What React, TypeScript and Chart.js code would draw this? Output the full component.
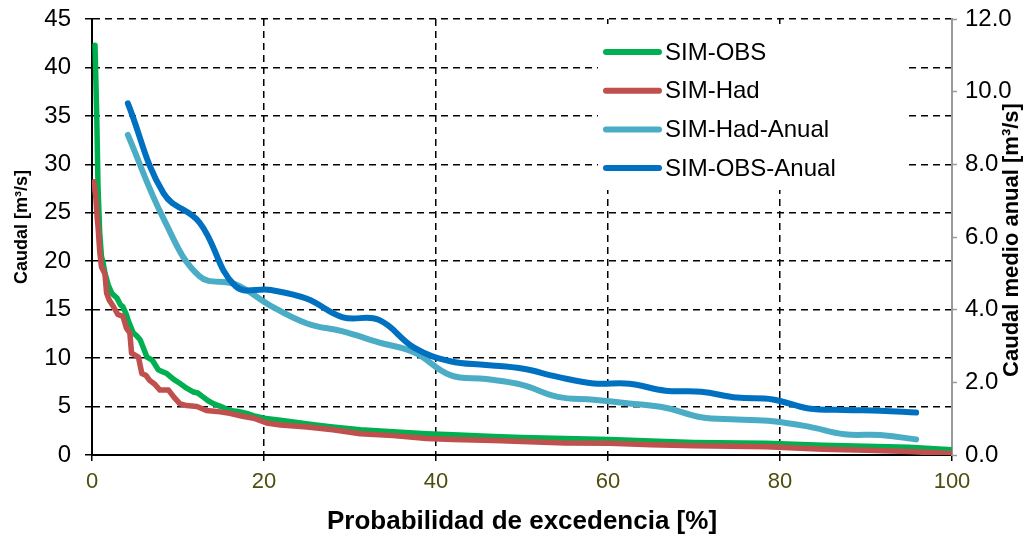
import React, { useEffect, useRef } from 'react';
import { Chart, registerables } from 'chart.js';

Chart.register(...registerables);

// ---- Data ----
const seriesNames = ['SIM-OBS', 'SIM-Had', 'SIM-Had-Anual', 'SIM-OBS-Anual'];

const obsX = [0.35, 0.55, 0.7, 0.9, 1.1, 1.3, 1.5, 1.9, 2.3, 2.9, 3.3, 3.6, 4.0, 4.2, 4.8, 5.2, 5.6, 6.0, 6.4, 7.0, 7.7, 8.2, 8.7, 9.5, 10.2, 11.0, 11.8, 12.3, 12.9, 13.5, 14.1, 15.0, 16.0, 17.0, 18.0, 19.0, 20.0, 21.9, 23.4, 26, 28, 31.2, 35, 38.9, 42, 46.7, 50, 55, 60.2, 65, 70, 78.4, 85, 90, 95, 100];
const obsY = [42.3, 35, 27.7, 22.9, 20.5, 19.8, 18.8, 17.5, 16.7, 16.2, 15.5, 15.3, 14.5, 13.9, 12.6, 12.3, 11.9, 11.0, 10.1, 9.8, 8.8, 8.6, 8.4, 7.8, 7.4, 6.9, 6.5, 6.4, 6.0, 5.6, 5.3, 5.0, 4.6, 4.5, 4.3, 4.0, 3.8, 3.6, 3.4, 3.1, 2.9, 2.6, 2.4, 2.2, 2.1, 1.9, 1.8, 1.7, 1.6, 1.45, 1.3, 1.2, 1.0, 0.9, 0.8, 0.55];

const hadX = [0.23, 0.45, 0.6, 0.7, 0.9, 1.1, 1.5, 1.7, 2.0, 2.5, 3.0, 3.6, 4.0, 4.4, 4.6, 5.0, 5.4, 5.8, 6.3, 6.7, 7.3, 7.9, 8.9, 9.5, 10.2, 11.0, 12.2, 13.3, 14.5, 16.0, 17.5, 18.8, 20.3, 21.9, 25, 28, 31.2, 35, 38.9, 42, 46.7, 50, 55, 60.2, 65, 70, 78.4, 85, 90, 95, 100];
const hadY = [28.2, 26.5, 24.5, 23.6, 21.0, 19.4, 18.7, 16.7, 16.0, 15.3, 14.5, 14.3, 13.1, 12.6, 10.5, 10.3, 10.1, 8.4, 8.2, 7.7, 7.3, 6.7, 6.7, 6.0, 5.3, 5.1, 5.0, 4.6, 4.5, 4.3, 4.0, 3.8, 3.3, 3.1, 2.9, 2.6, 2.2, 2.0, 1.7, 1.6, 1.5, 1.4, 1.25, 1.2, 1.05, 0.95, 0.86, 0.6, 0.5, 0.35, 0.15];

const anualX = [4.17, 8.33, 12.5, 16.67, 20.83, 25, 29.17, 33.33, 37.5, 41.67, 45.83, 50, 54.17, 58.33, 62.5, 66.67, 70.83, 75, 79.17, 83.33, 87.5, 91.67, 95.83];
const hadAnualY = [8.81, 6.5, 4.92, 4.7, 4.1, 3.62, 3.4, 3.1, 2.82, 2.2, 2.09, 1.93, 1.6, 1.52, 1.42, 1.3, 1.04, 0.98, 0.93, 0.78, 0.57, 0.55, 0.43];
const obsAnualY = [9.68, 7.2, 6.4, 4.65, 4.54, 4.3, 3.79, 3.72, 2.95, 2.58, 2.48, 2.38, 2.15, 1.97, 1.96, 1.77, 1.74, 1.58, 1.53, 1.28, 1.24, 1.22, 1.17];

const xTicks = [0, 20, 40, 60, 80, 100];
const leftTicks = [0, 5, 10, 15, 20, 25, 30, 35, 40, 45];
const rightTicks = [0, 2, 4, 6, 8, 10, 12];

const xTitle = 'Probabilidad de excedencia [%]';
const leftTitle = 'Caudal [m³/s]';
const rightTitle = 'Caudal medio anual [m³/s]';

// ---- Styles ----
const seriesColors = ['#00B050', '#C0504D', '#4BACC6', '#0070C0'];
const FONT = "'Liberation Sans', Arial, sans-serif";

const pts = (xs: number[], ys: number[]) => xs.map((x, i) => ({ x, y: ys[i] }));

const overlayPlugin = {
  id: 'overlay',
  afterDraw(chart: any) {
    const ctx = chart.ctx as CanvasRenderingContext2D;
    const area = chart.chartArea;
    ctx.save();
    // legend box
    ctx.fillStyle = '#ffffff';
    ctx.fillRect(598, 24, 307, 166);
    ctx.font = `24px ${FONT}`;
    ctx.textBaseline = 'middle';
    ctx.textAlign = 'left';
    seriesNames.forEach((name, i) => {
      const y = 52 + i * 38.7;
      ctx.strokeStyle = seriesColors[i];
      ctx.lineWidth = 6;
      ctx.lineCap = 'round';
      ctx.beginPath();
      ctx.moveTo(606, y);
      ctx.lineTo(659, y);
      ctx.stroke();
      ctx.fillStyle = '#000';
      ctx.fillText(name, 665, y + 1);
    });
    // x title
    ctx.font = `bold 26px ${FONT}`;
    ctx.textAlign = 'center';
    ctx.fillStyle = '#000';
    ctx.fillText(xTitle, (area.left + area.right) / 2, 522);
    // left title
    ctx.save();
    ctx.translate(22, 227);
    ctx.rotate(-Math.PI / 2);
    ctx.font = `bold 18px ${FONT}`;
    ctx.fillText(leftTitle, 0, 0);
    ctx.restore();
    // right title
    ctx.save();
    ctx.translate(1012, 240);
    ctx.rotate(-Math.PI / 2);
    ctx.font = `bold 22px ${FONT}`;
    ctx.fillText(rightTitle, 0, 0);
    ctx.restore();
    ctx.restore();
  },
};

export default function App() {
  const ref = useRef<HTMLCanvasElement | null>(null);
  useEffect(() => {
    if (!ref.current) return;
    const chart = new Chart(ref.current, {
      type: 'line',
      data: {
        datasets: [
          { label: seriesNames[0], data: pts(obsX, obsY), borderColor: seriesColors[0], borderWidth: 5.5, pointRadius: 0, tension: 0, yAxisID: 'y', order: 4, borderJoinStyle: 'round', borderCapStyle: 'round' },
          { label: seriesNames[1], data: pts(hadX, hadY), borderColor: seriesColors[1], borderWidth: 5.5, pointRadius: 0, tension: 0, yAxisID: 'y', order: 3, borderJoinStyle: 'round', borderCapStyle: 'round' },
          { label: seriesNames[2], data: pts(anualX, hadAnualY), borderColor: seriesColors[2], borderWidth: 6, pointRadius: 0, tension: 0.4, yAxisID: 'y1', order: 2, borderCapStyle: 'round' },
          { label: seriesNames[3], data: pts(anualX, obsAnualY), borderColor: seriesColors[3], borderWidth: 6, pointRadius: 0, tension: 0.4, yAxisID: 'y1', order: 1, borderCapStyle: 'round' },
        ],
      },
      options: {
        responsive: false,
        maintainAspectRatio: false,
        animation: false,
        devicePixelRatio: 1,
        layout: { padding: { top: 19, left: 0, right: 0, bottom: 0 } },
        plugins: { legend: { display: false }, tooltip: { enabled: false } },
        scales: {
          x: {
            type: 'linear',
            min: 0,
            max: 100,
            afterBuildTicks: (s: any) => { s.ticks = xTicks.map((v) => ({ value: v })); },
            afterFit: (s: any) => { s.height = 86; s.paddingLeft = 0; s.paddingRight = 0; },
            ticks: { color: '#4d4d0d', font: { family: FONT, size: 22 }, padding: 8, maxRotation: 0 },
            grid: {
              color: (c: any) => (c.tick && (c.tick.value === 0 || c.tick.value === 100) ? 'rgba(0,0,0,0)' : '#000'),
              lineWidth: 1.5,
              tickColor: '#000',
              tickLength: 6,
              tickWidth: 1.5,
            },
            border: { color: '#000', width: 2, dash: [7, 5] },
          },
          y: {
            type: 'linear',
            position: 'left',
            min: 0,
            max: 45,
            afterBuildTicks: (s: any) => { s.ticks = leftTicks.map((v) => ({ value: v })); },
            afterFit: (s: any) => { s.width = 92; s.paddingTop = 0; s.paddingBottom = 0; },
            ticks: { color: '#000', font: { family: FONT, size: 24 }, padding: 14 },
            grid: {
              color: (c: any) => (c.tick && c.tick.value === 0 ? 'rgba(0,0,0,0)' : '#000'),
              lineWidth: 1.5,
              tickColor: '#000',
              tickLength: 7,
              tickWidth: 1.5,
            },
            border: { color: '#000', width: 2, dash: [7, 5] },
          },
          y1: {
            type: 'linear',
            position: 'right',
            min: 0,
            max: 12,
            afterBuildTicks: (s: any) => { s.ticks = rightTicks.map((v) => ({ value: v })); },
            afterFit: (s: any) => { s.width = 77; s.paddingTop = 0; s.paddingBottom = 0; },
            ticks: { color: '#000', font: { family: FONT, size: 24 }, padding: 8, callback: (v: any) => Number(v).toFixed(1) },
            grid: { drawOnChartArea: false, tickColor: '#999', tickLength: 5, tickWidth: 1.5 },
            border: { color: '#999', width: 2 },
          },
        },
      },
      plugins: [overlayPlugin],
    } as any);
    return () => chart.destroy();
  }, []);
  return (
    <div style={{ position: 'absolute', left: 0, top: 0, width: 1029, height: 541, background: '#fff' }}>
      <canvas ref={ref} width={1029} height={541} style={{ display: 'block' }} />
    </div>
  );
}
